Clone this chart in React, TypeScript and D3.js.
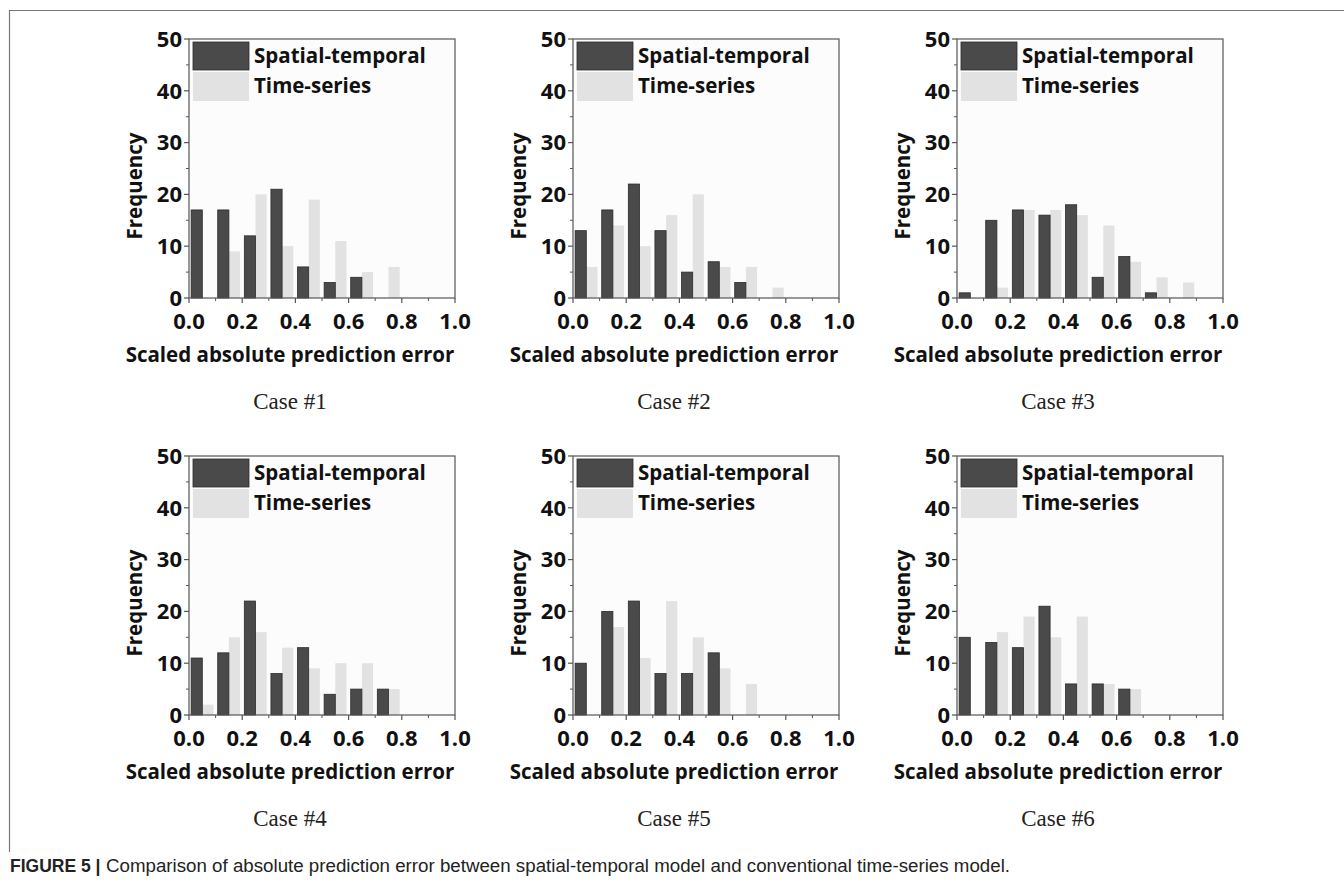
import React from 'react';
import { scaleLinear, format } from 'd3';

// bin starts on the error axis (bin width 0.1)
const binStarts = [0, 0.1, 0.2, 0.3, 0.4, 0.5, 0.6, 0.7, 0.8, 0.9];

// frequencies per bin
const case1Spatial = [17, 17, 12, 21, 6, 3, 4, 0, 0, 0];
const case1Series = [0, 9, 20, 10, 19, 11, 5, 6, 0, 0];
const case2Spatial = [13, 17, 22, 13, 5, 7, 3, 0, 0, 0];
const case2Series = [6, 14, 10, 16, 20, 6, 6, 2, 0, 0];
const case3Spatial = [1, 15, 17, 16, 18, 4, 8, 1, 0, 0];
const case3Series = [0, 2, 17, 17, 16, 14, 7, 4, 3, 0];
const case4Spatial = [11, 12, 22, 8, 13, 4, 5, 5, 0, 0];
const case4Series = [2, 15, 16, 13, 9, 10, 10, 5, 0, 0];
const case5Spatial = [10, 20, 22, 8, 8, 12, 0, 0, 0, 0];
const case5Series = [0, 17, 11, 22, 15, 9, 6, 0, 0, 0];
const case6Spatial = [15, 14, 13, 21, 6, 6, 5, 0, 0, 0];
const case6Series = [0, 16, 19, 15, 19, 6, 5, 0, 0, 0];

const caseNames = ['Case #1', 'Case #2', 'Case #3', 'Case #4', 'Case #5', 'Case #6'];
const spatialSeries = [case1Spatial, case2Spatial, case3Spatial, case4Spatial, case5Spatial, case6Spatial];
const timeSeries = [case1Series, case2Series, case3Series, case4Series, case5Series, case6Series];

const legendLabels = ['Spatial-temporal', 'Time-series'];
const xTicks = [0, 0.2, 0.4, 0.6, 0.8, 1.0];
const xMinorTicks = [0.1, 0.3, 0.5, 0.7, 0.9];
const yTicks = [0, 10, 20, 30, 40, 50];
const yMinorTicks = [5, 15, 25, 35, 45];

const xTitle = 'Scaled absolute prediction error';
const yTitle = 'Frequency';
const captionBold = 'FIGURE 5 |';
const captionText = 'Comparison of absolute prediction error between spatial-temporal model and conventional time-series model.';

// layout
const width = 1344;
const height = 889;
const colLefts = [189, 573, 957];
const rowTops = [39, 456];
const plotW = 266;
const plotH = 259;

const darkFill = '#4a4a4a';
const darkStroke = '#2b2b2b';
const lightFill = '#e2e2e2';
const axisColor = '#555';
const sans = "'Open Sans', 'Noto Sans', sans-serif";

const fmtX = format('.1f');

const Panel = ({ idx }) => {
    const left = colLefts[idx % 3];
    const top = rowTops[Math.floor(idx / 3)];
    const bottom = top + plotH;
    const right = left + plotW;

    const x = scaleLinear().domain([0, 1]).range([left, right]);
    const y = scaleLinear().domain([0, 50]).range([bottom, top]);

    const spatial = spatialSeries[idx];
    const series = timeSeries[idx];

    return (
        <g>
            <rect x={left} y={top} width={plotW} height={plotH} fill="#fcfcfc" />

            {/* bars: dark on the left half of each bin, light on the right */}
            {binStarts.map((b, i) =>
                series[i] > 0 ? (
                    <rect
                        key={'s' + i}
                        x={x(b + 0.05)}
                        y={y(series[i])}
                        width={x(b + 0.092) - x(b + 0.05)}
                        height={y(0) - y(series[i])}
                        fill={lightFill}
                    />
                ) : null
            )}
            {binStarts.map((b, i) =>
                spatial[i] > 0 ? (
                    <rect
                        key={'d' + i}
                        x={x(b + 0.008)}
                        y={y(spatial[i])}
                        width={x(b + 0.05) - x(b + 0.008)}
                        height={y(0) - y(spatial[i])}
                        fill={darkFill}
                        stroke={darkStroke}
                        strokeWidth={0.8}
                    />
                ) : null
            )}

            {/* frame */}
            <rect x={left} y={top} width={plotW} height={plotH} fill="none" stroke={axisColor} strokeWidth={1.2} />

            {/* x ticks */}
            {xTicks.map((t) => (
                <g key={'xt' + t}>
                    <line x1={x(t)} x2={x(t)} y1={bottom} y2={bottom + 5} stroke={axisColor} strokeWidth={1.2} />
                    <text
                        x={x(t)}
                        y={bottom + 23}
                        dy="0.35em"
                        textAnchor="middle"
                        fontFamily={sans}
                        fontWeight={700}
                        fontSize={22}
                        fill="#111"
                    >
                        {fmtX(t)}
                    </text>
                </g>
            ))}
            {xMinorTicks.map((t) => (
                <line key={'xm' + t} x1={x(t)} x2={x(t)} y1={bottom} y2={bottom + 3} stroke={axisColor} strokeWidth={1} />
            ))}

            {/* y ticks */}
            {yTicks.map((t) => (
                <g key={'yt' + t}>
                    <line x1={left - 5} x2={left} y1={y(t)} y2={y(t)} stroke={axisColor} strokeWidth={1.2} />
                    <text
                        x={left - 7}
                        y={y(t)}
                        dy="0.35em"
                        textAnchor="end"
                        fontFamily={sans}
                        fontWeight={700}
                        fontSize={22}
                        fill="#111"
                    >
                        {t}
                    </text>
                </g>
            ))}
            {yMinorTicks.map((t) => (
                <line key={'ym' + t} x1={left - 3} x2={left} y1={y(t)} y2={y(t)} stroke={axisColor} strokeWidth={1} />
            ))}

            {/* legend */}
            <rect x={left + 4} y={top + 3} width={56} height={28} fill={darkFill} stroke={darkStroke} strokeWidth={0.8} />
            <rect x={left + 4} y={top + 33} width={56} height={29} fill={lightFill} />
            <text x={left + 65} y={top + 24} fontFamily={sans} fontWeight={700} fontSize={20.5} fill="#111">
                {legendLabels[0]}
            </text>
            <text x={left + 65} y={top + 54} fontFamily={sans} fontWeight={700} fontSize={20.5} fill="#111">
                {legendLabels[1]}
            </text>

            {/* axis titles */}
            <text
                transform={`translate(${left - 54}, ${top + 147}) rotate(-90)`}
                textAnchor="middle"
                dy="0.35em"
                fontFamily={sans}
                fontWeight={700}
                fontSize={20.5}
                fill="#111"
            >
                {yTitle}
            </text>
            <text
                x={(left + right) / 2 - 32}
                y={bottom + 57}
                dy="0.35em"
                textAnchor="middle"
                fontFamily={sans}
                fontWeight={700}
                fontSize={20.5}
                fill="#111"
            >
                {xTitle}
            </text>

            {/* case label */}
            <text
                x={(left + right) / 2 - 32}
                y={bottom + 103}
                dy="0.35em"
                textAnchor="middle"
                fontFamily="'Liberation Serif', 'Times New Roman', serif"
                fontSize={23}
                fill="#222"
            >
                {caseNames[idx]}
            </text>
        </g>
    );
};

const App = () => {
    return (
        <svg
            width={width}
            height={height}
            style={{ position: 'absolute', left: 0, top: 0, background: '#fff' }}
        >
            {/* figure frame */}
            <line x1={9} x2={width} y1={10.5} y2={10.5} stroke="#777" strokeWidth={1.2} />
            <line x1={9.5} x2={9.5} y1={10} y2={852} stroke="#777" strokeWidth={1.2} />

            {[0, 1, 2, 3, 4, 5].map((i) => (
                <Panel key={i} idx={i} />
            ))}

            <text x={10} y={872} fontFamily="'Liberation Sans', Arial, sans-serif" fontSize={17.5} fill="#222">
                <tspan fontWeight={700}>{captionBold}</tspan>
                <tspan x={106} textLength={904} lengthAdjust="spacingAndGlyphs">
                    {captionText}
                </tspan>
            </text>
        </svg>
    );
};

export default App;
